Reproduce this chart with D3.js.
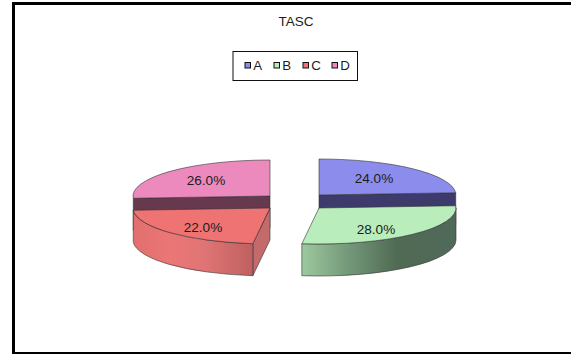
<!DOCTYPE html>
<html>
<head>
<meta charset="utf-8">
<script src="https://cdn.jsdelivr.net/npm/d3@7"></script>
<style>
html,body{margin:0;padding:0;background:#fff;overflow:hidden}
text{font-family:"Liberation Sans",Arial,sans-serif;fill:#1c1c1c}
</style>
</head>
<body>
<svg id="chart" width="571" height="354"></svg>
<script>
const title = "TASC";
const categories = ["A", "B", "C", "D"];
const shares = [24.0, 28.0, 22.0, 26.0];
const topColors = ["#8b8cec", "#b9edbb", "#ee7372", "#ec89bd"];
const cutColors = ["#3d3b6b", "#4f6a52", "#c56a6a", "#66394f"];
const wallStops = [
  null,
  [["0%", "#9dc99d"], ["30%", "#74987a"], ["62%", "#506a53"], ["100%", "#50695a"]],
  [["0%", "#e26e6e"], ["30%", "#ec7676"], ["60%", "#df7474"], ["100%", "#c06060"]],
  null
];

// Pie geometry: each slice has its own apex because the slices are pulled apart.
const rx = 137, ry = 36, depth = 32;
const apexes = [[319, 195], [319, 208], [270, 208], [270, 196]];
const labelSpots = [[374, 178], [376, 229], [203, 227], [206, 180]];

const svg = d3.select("#chart");
const defs = svg.append("defs");

const slices = d3.pie().sort(null).value(d => d)(shares);

const px = (i, a) => apexes[i][0] + rx * Math.sin(a);
const py = (i, a) => apexes[i][1] - ry * Math.cos(a);

// Elliptical arc to angle a1, shifted down by dy.
function arcTo(i, a1, dy, sweep) {
  return `A${rx},${ry} 0 0 ${sweep} ${px(i, a1)},${py(i, a1) + dy}`;
}

// Outer wall of a slice, limited to the angles that face the viewer.
function wallPath(i) {
  const s = slices[i];
  const a0 = Math.max(s.startAngle, Math.PI / 2);
  const a1 = Math.min(s.endAngle, 3 * Math.PI / 2);
  return `M${px(i, a0)},${py(i, a0)}` + arcTo(i, a1, 0, 1) +
    `L${px(i, a1)},${py(i, a1) + depth}` + arcTo(i, a0, depth, 0) + "Z";
}

function topPath(i) {
  const s = slices[i];
  return `M${apexes[i][0]},${apexes[i][1]}L${px(i, s.startAngle)},${py(i, s.startAngle)}` +
    arcTo(i, s.endAngle, 0, 1) + "Z";
}

// Flat cut running from the apex to the rim at angle a.
function cutPath(i, a) {
  const [x, y] = apexes[i];
  return `M${x},${y}L${px(i, a)},${py(i, a)}L${px(i, a)},${py(i, a) + depth}L${x},${y + depth}Z`;
}

const edge = "#333";
const pie = svg.append("g").attr("stroke", edge).attr("stroke-width", 0.6).attr("stroke-linejoin", "round");

// Back slices first: the lower slices overlap their dark cut faces.
pie.append("path").attr("d", cutPath(0, slices[0].endAngle)).attr("fill", cutColors[0]);
pie.append("path").attr("d", cutPath(3, slices[3].startAngle)).attr("fill", cutColors[3]);
pie.append("path").attr("d", topPath(0)).attr("fill", topColors[0]);
pie.append("path").attr("d", topPath(3)).attr("fill", topColors[3]);

// Cut face of C shows on its right side.
pie.append("path").attr("d", cutPath(2, slices[2].startAngle)).attr("fill", cutColors[2]);

[1, 2].forEach(i => {
  const s = slices[i];
  const a0 = Math.max(s.startAngle, Math.PI / 2);
  const a1 = Math.min(s.endAngle, 3 * Math.PI / 2);
  const grad = defs.append("linearGradient").attr("id", "wall" + i)
    .attr("gradientUnits", "userSpaceOnUse")
    .attr("x1", Math.min(px(i, a0), px(i, a1))).attr("x2", Math.max(px(i, a0), px(i, a1)))
    .attr("y1", 0).attr("y2", 0);
  grad.selectAll("stop").data(wallStops[i]).join("stop")
    .attr("offset", d => d[0]).attr("stop-color", d => d[1]);
  pie.append("path").attr("d", wallPath(i)).attr("fill", `url(#wall${i})`);
  pie.append("path").attr("d", topPath(i)).attr("fill", topColors[i]);
});

const fmt = d3.format(".1f");
svg.append("g").selectAll("text").data(slices).join("text")
  .attr("x", (d, i) => labelSpots[i][0])
  .attr("y", (d, i) => labelSpots[i][1] + 5)
  .attr("text-anchor", "middle")
  .attr("font-size", 13.6)
  .text(d => fmt(d.value) + "%");

svg.append("text").attr("x", 296).attr("y", 26).attr("text-anchor", "middle")
  .attr("font-size", 13.5).text(title);

// Legend box with one key per category.
const legend = svg.append("g");
legend.append("rect").attr("x", 233).attr("y", 51.5).attr("width", 124.5).attr("height", 29)
  .attr("fill", "#fff").attr("stroke", "#111").attr("stroke-width", 1);
const keyX = d3.scalePoint().domain(categories).range([245, 332]);
const entry = legend.selectAll("g").data(categories).join("g")
  .attr("transform", d => `translate(${keyX(d)},62.5)`);
entry.append("rect").attr("width", 5.5).attr("height", 5.5)
  .attr("fill", (d, i) => topColors[i]).attr("stroke", "#111").attr("stroke-width", 1);
entry.append("text").attr("x", 8.3).attr("y", 7.8).attr("font-size", 13.3).text(d => d);

// Heavy frame; the right edge runs off the page.
const frame = svg.append("g").attr("fill", "#000");
frame.append("rect").attr("x", 12).attr("y", 2).attr("width", 559).attr("height", 3);
frame.append("rect").attr("x", 12).attr("y", 2).attr("width", 3).attr("height", 352);
frame.append("rect").attr("x", 12).attr("y", 352).attr("width", 559).attr("height", 2);
</script>
</body>
</html>
